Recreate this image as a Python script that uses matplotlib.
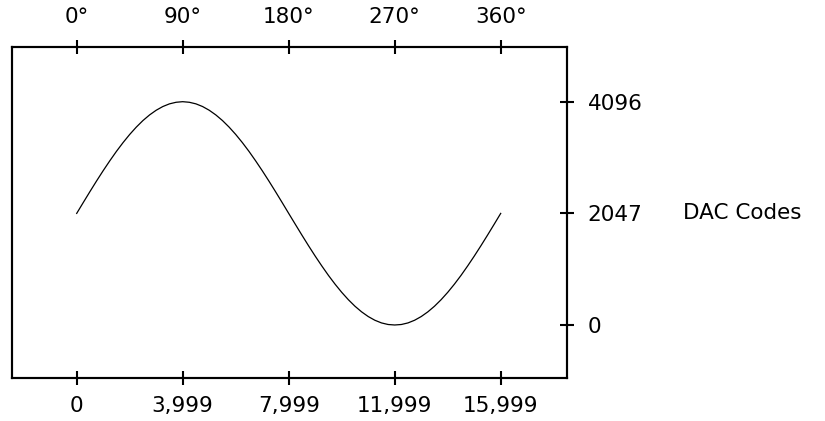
"""
Sine lookup table sent to a DAC: sample index vs. output code, phase on top.
"""

import matplotlib
matplotlib.use('Agg')
import matplotlib.pyplot as plt
import matplotlib.transforms as mtransforms

# ── Data ───────────────────────────────────────────────────────────────────────
sample_index = [0, 250, 500, 750, 1000, 1250, 1500, 1750,
                2000, 2250, 2500, 2750, 3000, 3250, 3500, 3750, 3999,
                4250, 4500, 4750, 5000, 5250, 5500, 5750,
                6000, 6250, 6500, 6750, 7000, 7250, 7500, 7750, 7999,
                8250, 8500, 8750, 9000, 9250, 9500, 9750,
                10000, 10250, 10500, 10750, 11000, 11250, 11500, 11750, 11999,
                12250, 12500, 12750, 13000, 13250, 13500, 13750,
                14000, 14250, 14500, 14750, 15000, 15250, 15500, 15750, 15999]
dac_code = [2047, 2248, 2447, 2642, 2831, 3012, 3185, 3346,
            3495, 3630, 3750, 3853, 3939, 4007, 4056, 4085, 4096,
            4085, 4056, 4007, 3939, 3853, 3750, 3630,
            3495, 3346, 3185, 3012, 2831, 2642, 2447, 2248, 2047,
            1846, 1647, 1452, 1263, 1082, 909, 748,
            599, 464, 344, 241, 155, 87, 38, 9, 0,
            9, 38, 87, 155, 241, 344, 464,
            599, 748, 909, 1082, 1263, 1452, 1647, 1846, 2047]

bottom_ticks = [0, 3999, 7999, 11999, 15999]
bottom_labels = ["0", "3,999", "7,999", "11,999", "15,999"]
top_labels = ["0°", "90°", "180°", "270°", "360°"]
right_ticks = [0, 2047, 4096]
right_labels = ["0", "2047", "4096"]
y_title = "DAC Codes"

FS = 15.5
LW = 1.5

fig = plt.figure(figsize=(8.25, 4.21), dpi=100)
ax = fig.add_axes([12 / 825, 0.1014, 0.6724, 0.7858])

ax.plot(sample_index, dac_code, color='black', linewidth=0.9)

ax.set_xlim(-2441, 18490)
ax.set_ylim(-978, 5090)

for sp in ax.spines.values():
    sp.set_linewidth(LW)

# bottom axis
ax.set_xticks(bottom_ticks)
ax.set_xticklabels(bottom_labels, fontsize=FS)
ax.tick_params(axis='x', direction='inout', length=10, width=LW, pad=8)

# right axis
ax.yaxis.tick_right()
ax.set_yticks(right_ticks)
ax.set_yticklabels(right_labels, fontsize=FS)
ax.tick_params(axis='y', direction='inout', length=10, width=LW, pad=10,
               left=False, right=True)

# top axis (phase)
ax_top = ax.twiny()
ax_top.set_xlim(ax.get_xlim())
ax_top.set_xticks(bottom_ticks)
ax_top.set_xticklabels(top_labels, fontsize=FS)
ax_top.tick_params(axis='x', direction='inout', length=10, width=LW, pad=10)
for sp in ax_top.spines.values():
    sp.set_linewidth(LW)

trans = mtransforms.blended_transform_factory(ax.transAxes, ax.transData)
ax.text((683 - 12) / 555, 2047, y_title, transform=trans,
        ha='left', va='center', fontsize=FS)

fig.savefig('out.png', dpi=100)
